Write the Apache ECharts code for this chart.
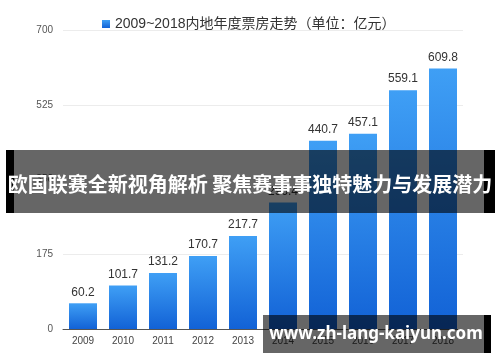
<!DOCTYPE html>
<html>
<head>
<meta charset="utf-8">
<script src="https://cdn.jsdelivr.net/npm/echarts@6/dist/echarts.min.js"></script>
<style>html,body{margin:0;padding:0;background:#fff}#c{width:500px;height:362px}</style>
</head>
<body>
<div id="c"></div>
<script>
const categories = ['2009','2010','2011','2012','2013','2014','2015','2016','2017','2018'];
const values = [60.2, 101.7, 131.2, 170.7, 217.7, 296.4, 440.7, 457.1, 559.1, 609.8];
const seriesName = '2009~2018内地年度票房走势（单位：亿元）';
const yTicks = [0, 175, 350, 525, 700];
const bannerText = '欧国联赛全新视角解析 聚焦赛事事独特魅力与发展潜力';
const watermarkText = 'www.zh-lang-kaiyun.com';

const chart = echarts.init(document.getElementById('c'), null, {renderer: 'canvas'});
const font = '"Liberation Sans", Arial, "Noto Sans CJK SC", sans-serif';
chart.setOption({
  animation: false,
  textStyle: {fontFamily: font},
  legend: {
    data: [seriesName], top: 12, left: 97,
    itemWidth: 8, itemHeight: 8, itemGap: 10,
    icon: 'rect',
    textStyle: {fontSize: 14, color: '#333', fontFamily: font}
  },
  grid: {left: 63, right: 37, top: 30, bottom: 33},
  xAxis: {
    type: 'category', data: categories,
    axisLine: {lineStyle: {color: '#555', width: 1}},
    axisTick: {show: false},
    axisLabel: {fontSize: 10, color: '#444', margin: 7}
  },
  yAxis: {
    type: 'value', min: yTicks[0], max: yTicks[yTicks.length - 1], interval: 175,
    axisLine: {show: false}, axisTick: {show: false},
    axisLabel: {fontSize: 10, color: '#555', margin: 10},
    splitLine: {lineStyle: {color: '#ececec'}}
  },
  series: [{
    name: seriesName, type: 'bar', data: values, barWidth: 28,
    itemStyle: {
      color: new echarts.graphic.LinearGradient(0, 0, 0, 1, [
        {offset: 0, color: '#3f9ff5'},
        {offset: 1, color: '#1262d6'}
      ])
    },
    label: {show: true, position: 'top', fontSize: 12, color: '#333', distance: 5}
  }],
  graphic: [
    {type: 'rect', shape: {x: 6, y: 150, width: 8, height: 63}, style: {fill: '#000'}, z: 100},
    {type: 'rect', shape: {x: 14, y: 150, width: 470, height: 63}, style: {fill: 'rgba(0,0,0,0.6)'}, z: 100},
    {type: 'rect', shape: {x: 484, y: 150, width: 11, height: 63}, style: {fill: '#000'}, z: 100},
    {type: 'text', x: 250, y: 184, z: 101, style: {text: bannerText, fill: '#fff', font: 'bold 20px "Noto Sans CJK SC", sans-serif', textAlign: 'center', textVerticalAlign: 'middle'}},
    {type: 'rect', shape: {x: 263, y: 315, width: 221, height: 38}, style: {fill: 'rgba(0,0,0,0.6)'}, z: 100},
    {type: 'rect', shape: {x: 484, y: 315, width: 7, height: 38}, style: {fill: '#000'}, z: 100},
    {type: 'text', x: 376, y: 334, z: 101, style: {text: watermarkText, fill: '#fff', font: 'bold 17px "Noto Sans", "DejaVu Sans", sans-serif', textAlign: 'center', textVerticalAlign: 'middle'}}
  ]
});
</script>
</body>
</html>
